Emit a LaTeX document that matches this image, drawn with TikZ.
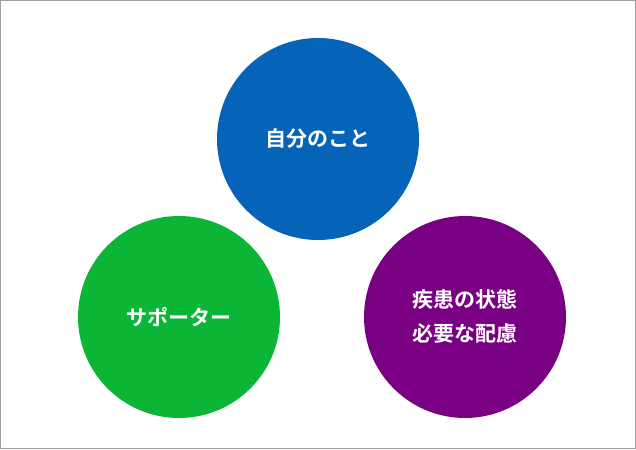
\documentclass[tikz,border=0pt]{standalone}
\usepackage{fontspec}
\newfontfamily\cjk{Noto Sans CJK JP Bold}
\definecolor{cblue}{HTML}{0563B8}
\definecolor{cgreen}{HTML}{0BB535}
\definecolor{cpurple}{HTML}{7A0083}
\definecolor{cborder}{HTML}{A0A0A0}
\begin{document}
\begin{tikzpicture}[x=1pt,y=-1pt,
  circ/.style={circle,minimum size=202pt,inner sep=0pt,text=white,font=\cjk\fontsize{21}{34}\selectfont,align=center}]
\useasboundingbox (0,0) rectangle (636,449);
\draw[cborder,line width=1pt] (0.5,0.5) rectangle (635.5,448.5);
\node[circ,fill=cblue] (a) at (318,139) {自分のこと};
\node[circ,fill=cgreen] (b) at (179,317) {サポーター};
\node[circ,fill=cpurple] (c) at (465,317) {疾患の状態\\必要な配慮};
\end{tikzpicture}
\end{document}
